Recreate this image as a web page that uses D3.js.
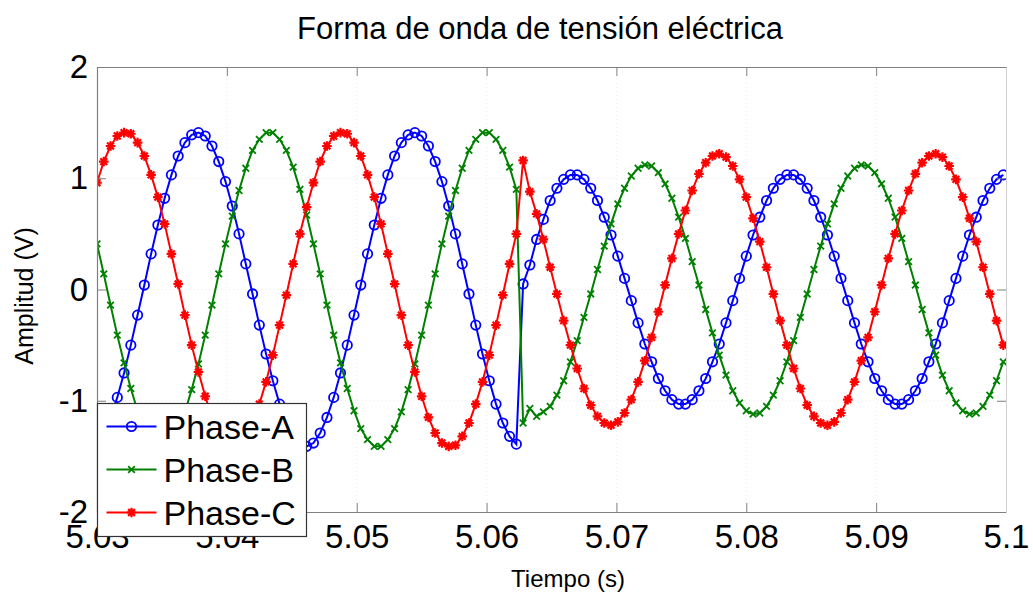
<!DOCTYPE html>
<html>
<head>
<meta charset="utf-8">
<script src="https://cdn.jsdelivr.net/npm/d3@7/dist/d3.min.js"></script>
<style>
  body { margin: 0; background: #fff; }
  svg { display: block; font-family: Arial, "Liberation Sans", sans-serif; }
</style>
</head>
<body>
<svg id="chart" width="1033" height="596"></svg>
<script>
// labels and ticks
var chartTitle = "Forma de onda de tensión eléctrica";
var xLabel = "Tiempo (s)";
var yLabel = "Amplitud (V)";
var xTicks = [5.03, 5.04, 5.05, 5.06, 5.07, 5.08, 5.09, 5.1];
var xTickLabels = ["5.03", "5.04", "5.05", "5.06", "5.07", "5.08", "5.09", "5.1"];
var yTicks = [-2, -1, 0, 1, 2];
var yTickLabels = ["-2", "-1", "0", "1", "2"];
var seriesNames = ["Phase-A", "Phase-B", "Phase-C"];

// samples start at 5.03 s, one every 1/1920 s
var sampleStart = 5.03;
var samplePeriod = 1 / 1920;

var phaseA = [
  -1.38, -1.29, -1.15, -0.97, -0.75, -0.50, -0.23,
  0.04, 0.32, 0.58, 0.82, 1.03, 1.20, 1.32, 1.39, 1.41, 1.38, 1.29, 1.15, 0.97, 0.75, 0.50, 0.23,
  -0.04, -0.32, -0.58, -0.82, -1.03, -1.20, -1.32, -1.39, -1.41, -1.38, -1.29, -1.15, -0.97, -0.75, -0.50, -0.23,
  0.04, 0.32, 0.58, 0.82, 1.03, 1.20, 1.32, 1.39, 1.41, 1.38, 1.29, 1.15, 0.97, 0.75, 0.50, 0.23,
  -0.04, -0.32, -0.58, -0.82, -1.03, -1.20, -1.32, -1.39,
  0.05, 0.22, 0.45, 0.63, 0.80, 0.91, 0.99, 1.03, 1.03, 0.99, 0.91, 0.80, 0.65, 0.49, 0.30, 0.10,
  -0.10, -0.30, -0.49, -0.65, -0.80, -0.91, -0.99, -1.03, -1.03, -0.99, -0.91, -0.80, -0.65, -0.49, -0.30, -0.10,
  0.10, 0.30, 0.49, 0.65, 0.80, 0.91, 0.99, 1.03, 1.03, 0.99, 0.91, 0.80, 0.65, 0.49, 0.30, 0.10,
  -0.10, -0.30, -0.49, -0.65, -0.80, -0.91, -0.99, -1.03, -1.03, -0.99, -0.91, -0.80, -0.65, -0.49, -0.30, -0.10,
  0.10, 0.30, 0.49, 0.65, 0.80, 0.91, 0.99, 1.03
];

var phaseB = [
  0.41, 0.14, -0.14, -0.41, -0.66, -0.89, -1.09, -1.25, -1.35, -1.41, -1.41, -1.35, -1.25, -1.10, -0.90, -0.67, -0.41, -0.14,
  0.14, 0.41, 0.66, 0.89, 1.09, 1.25, 1.35, 1.41, 1.41, 1.35, 1.25, 1.10, 0.90, 0.67, 0.41, 0.14,
  -0.14, -0.41, -0.66, -0.89, -1.09, -1.25, -1.35, -1.41, -1.41, -1.35, -1.25, -1.10, -0.90, -0.67, -0.41, -0.14,
  0.14, 0.41, 0.66, 0.89, 1.09, 1.25, 1.35, 1.41, 1.41, 1.35, 1.25, 1.10, 0.90,
  -1.20, -1.07, -1.14, -1.10, -1.05, -0.95, -0.82, -0.65, -0.46, -0.25, -0.04,
  0.18, 0.39, 0.59, 0.77, 0.91, 1.02, 1.09, 1.12, 1.11, 1.05, 0.95, 0.82, 0.65, 0.46, 0.25, 0.04,
  -0.18, -0.39, -0.59, -0.77, -0.91, -1.02, -1.09, -1.12, -1.11, -1.05, -0.95, -0.82, -0.65, -0.46, -0.25, -0.04,
  0.18, 0.39, 0.59, 0.77, 0.91, 1.02, 1.09, 1.12, 1.11, 1.05, 0.95, 0.82, 0.65, 0.46, 0.25, 0.04,
  -0.18, -0.39, -0.59, -0.77, -0.91, -1.02, -1.09, -1.12, -1.11, -1.05, -0.95, -0.82, -0.65
];

var phaseC = [
  0.96, 1.15, 1.29, 1.38, 1.41, 1.40, 1.32, 1.20, 1.03, 0.83, 0.59, 0.32, 0.05,
  -0.23, -0.50, -0.74, -0.96, -1.15, -1.29, -1.38, -1.41, -1.40, -1.32, -1.20, -1.03, -0.83, -0.59, -0.32, -0.05,
  0.23, 0.50, 0.74, 0.96, 1.15, 1.29, 1.38, 1.41, 1.40, 1.32, 1.20, 1.03, 0.83, 0.59, 0.32, 0.05,
  -0.23, -0.50, -0.74, -0.96, -1.15, -1.29, -1.38, -1.41, -1.40, -1.32, -1.20, -1.03, -0.83, -0.59, -0.32, -0.05,
  0.23, 0.50,
  1.16, 0.88, 0.68, 0.45, 0.20,
  -0.04, -0.28, -0.50, -0.71, -0.89, -1.04, -1.14, -1.20, -1.22, -1.19, -1.11, -0.99, -0.83, -0.64, -0.43, -0.20,
  0.04, 0.28, 0.50, 0.71, 0.89, 1.04, 1.14, 1.20, 1.22, 1.19, 1.11, 0.99, 0.83, 0.64, 0.43, 0.20,
  -0.04, -0.28, -0.50, -0.71, -0.89, -1.04, -1.14, -1.20, -1.22, -1.19, -1.11, -0.99, -0.83, -0.64, -0.43, -0.20,
  0.04, 0.28, 0.50, 0.71, 0.89, 1.04, 1.14, 1.20, 1.22, 1.19, 1.11, 0.99, 0.83, 0.64, 0.43, 0.20,
  -0.04, -0.28, -0.50
];

var seriesColors = ["#0000ff", "#008000", "#ff0000"];
var markerShapes = ["circle", "cross", "star"];

var svg = d3.select("#chart");
var plot = { left: 97, right: 1006, top: 67, bottom: 512 };

var x = d3.scaleLinear().domain([5.03, 5.1]).range([plot.left, plot.right]);
var y = d3.scaleLinear().domain([-2, 2]).range([plot.bottom, plot.top]);

// faint dotted grid
var grid = svg.append("g").attr("class", "grid");
grid.selectAll("line.vx").data(xTicks.slice(1, -1)).enter().append("line")
  .attr("x1", function(d) { return x(d); }).attr("x2", function(d) { return x(d); })
  .attr("y1", plot.top).attr("y2", plot.bottom);
grid.selectAll("line.hy").data(yTicks.slice(1, -1)).enter().append("line")
  .attr("x1", plot.left).attr("x2", plot.right)
  .attr("y1", function(d) { return y(d); }).attr("y2", function(d) { return y(d); });
grid.selectAll("line").attr("stroke", "#ececec").attr("stroke-width", 1).attr("stroke-dasharray", "1,3");

svg.append("clipPath").attr("id", "clip").append("rect")
  .attr("x", plot.left).attr("y", plot.top)
  .attr("width", plot.right - plot.left).attr("height", plot.bottom - plot.top);

function toPoints(values) {
  return values.map(function(v, i) { return { t: sampleStart + i * samplePeriod, v: v }; });
}

var series = [phaseA, phaseB, phaseC].map(function(vals, i) {
  return { name: seriesNames[i], color: seriesColors[i], shape: markerShapes[i], points: toPoints(vals) };
});

var line = d3.line().x(function(d) { return x(d.t); }).y(function(d) { return y(d.v); });

function drawMarker(sel, shape, color) {
  if (shape === "circle") {
    sel.append("circle").attr("r", 4.7).attr("fill", "none")
      .attr("stroke", color).attr("stroke-width", 1.8);
  } else if (shape === "cross") {
    sel.append("path").attr("d", "M-3.3,-3.3L3.3,3.3M-3.3,3.3L3.3,-3.3")
      .attr("fill", "none").attr("stroke", color).attr("stroke-width", 1.8);
  } else {
    sel.append("path").attr("d", "M0,-4.8V4.8M-4.8,0H4.8M-3.4,-3.4L3.4,3.4M-3.4,3.4L3.4,-3.4")
      .attr("fill", "none").attr("stroke", color).attr("stroke-width", 2.2);
  }
}

var plotArea = svg.append("g").attr("clip-path", "url(#clip)");
var sg = plotArea.selectAll("g.series").data(series).enter().append("g").attr("class", "series");
sg.append("path")
  .attr("d", function(d) { return line(d.points); })
  .attr("fill", "none")
  .attr("stroke", function(d) { return d.color; })
  .attr("stroke-width", 2);
sg.each(function(s) {
  var m = d3.select(this).selectAll("g.mk").data(s.points).enter().append("g")
    .attr("transform", function(d) { return "translate(" + x(d.t) + "," + y(d.v) + ")"; });
  drawMarker(m, s.shape, s.color);
});

// axes, ticks pointing inward
var axisColor = "#808080";
var xAxis = svg.append("g").attr("transform", "translate(0," + plot.bottom + ")")
  .call(d3.axisBottom(x).tickValues(xTicks)
    .tickFormat(function(d, i) { return xTickLabels[i]; })
    .tickSizeInner(-9).tickSizeOuter(0).tickPadding(13));
var yAxis = svg.append("g").attr("transform", "translate(" + plot.left + ",0)")
  .call(d3.axisLeft(y).tickValues(yTicks)
    .tickFormat(function(d, i) { return yTickLabels[i]; })
    .tickSizeInner(-9).tickSizeOuter(0).tickPadding(9));
var xTop = svg.append("g").attr("transform", "translate(0," + plot.top + ")")
  .call(d3.axisTop(x).tickValues(xTicks).tickFormat("").tickSizeInner(-9).tickSizeOuter(0));
var yRight = svg.append("g").attr("transform", "translate(" + plot.right + ",0)")
  .call(d3.axisRight(y).tickValues(yTicks).tickFormat("").tickSizeInner(-9).tickSizeOuter(0));

[xAxis, yAxis, xTop].forEach(function(a) {
  a.select(".domain").attr("stroke", axisColor).attr("stroke-width", 1.2);
  a.selectAll(".tick line").attr("stroke", axisColor);
});
yRight.select(".domain").attr("stroke", "#d0d0d0");
yRight.selectAll(".tick line").attr("stroke", axisColor);

svg.selectAll(".tick text")
  .attr("font-family", "Arial, 'Liberation Sans', sans-serif")
  .attr("font-size", 33).attr("fill", "#000");

// titles
svg.append("text").attr("x", 540).attr("y", 39).attr("text-anchor", "middle")
  .attr("font-size", 31).text(chartTitle);
svg.append("text").attr("x", 568).attr("y", 587).attr("text-anchor", "middle")
  .attr("font-size", 24).text(xLabel);
svg.append("text").attr("transform", "translate(33,296) rotate(-90)").attr("text-anchor", "middle")
  .attr("font-size", 25).text(yLabel);

// legend
var legend = svg.append("g").attr("transform", "translate(97.5,403.5)");
legend.append("rect").attr("width", 209).attr("height", 133)
  .attr("fill", "#fff").attr("stroke", "#333").attr("stroke-width", 1.2);
var items = legend.selectAll("g.item").data(series).enter().append("g")
  .attr("transform", function(d, i) { return "translate(0," + (23 + i * 43) + ")"; });
items.append("line").attr("x1", 9).attr("x2", 59).attr("y1", 0).attr("y2", 0)
  .attr("stroke", function(d) { return d.color; }).attr("stroke-width", 2);
items.each(function(s) {
  var m = d3.select(this).append("g").attr("transform", "translate(34,0)");
  drawMarker(m, s.shape, s.color);
});
items.append("text").attr("x", 66).attr("y", 0).attr("dy", "0.36em")
  .attr("font-size", 34).text(function(d) { return d.name; });
</script>
</body>
</html>
